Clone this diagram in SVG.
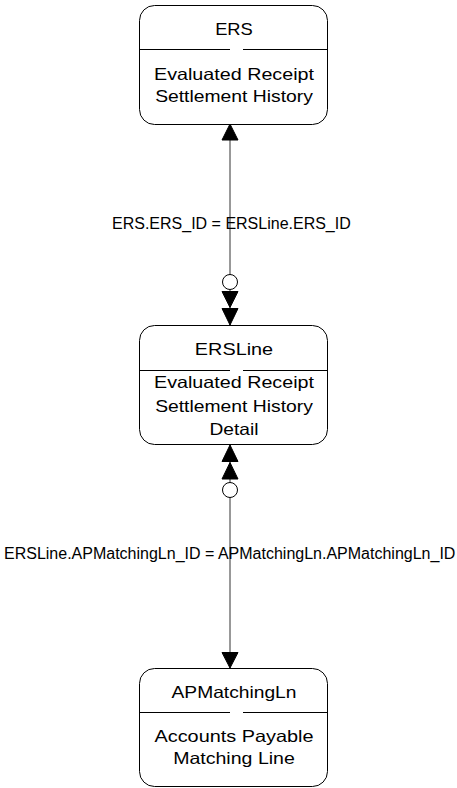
<svg xmlns="http://www.w3.org/2000/svg" width="457" height="788" viewBox="0 0 457 788">
<style>
.box{fill:#fff;stroke:#000;stroke-width:1}
.div{stroke:#000;stroke-width:1;fill:none}
.t{font-family:"Liberation Sans",Arial,sans-serif;font-size:16.5px;fill:#000;text-anchor:middle}
.lbl{font-family:"Liberation Sans",Arial,sans-serif;font-size:16px;fill:#000}
.ln{stroke:#333;stroke-width:1;fill:none}
.ah{fill:#000;stroke:#000;stroke-width:1}
.ci{fill:#fff;stroke:#000;stroke-width:1}
</style>
<rect width="457" height="788" fill="#fff"/>
<g id="connectors">
  <g id="c1">
    <line class="ln" x1="230" y1="124" x2="230" y2="325"/>
    <path class="ah" d="M230,124 L222,140 L238,140 Z"/>
    <circle class="ci" cx="230" cy="282" r="7.5"/>
    <path class="ah" d="M222,291.5 L238,291.5 L230,307.5 Z"/>
    <path class="ah" d="M222,308.5 L238,308.5 L230,325 Z"/>
    <text class="lbl" x="112" y="228.5">ERS.ERS_ID = ERSLine.ERS_ID</text>
  </g>
  <g id="c2">
    <line class="ln" x1="230" y1="444" x2="230" y2="668"/>
    <path class="ah" d="M230,445 L222,461.5 L238,461.5 Z"/>
    <path class="ah" d="M230,462.5 L222,479 L238,479 Z"/>
    <circle class="ci" cx="230" cy="490" r="7.5"/>
    <path class="ah" d="M222,652.5 L238,652.5 L230,668 Z"/>
    <text class="lbl" x="4" y="559">ERSLine.APMatchingLn_ID = APMatchingLn.APMatchingLn_ID</text>
  </g>
</g>
<g id="ERS">
  <rect class="box" x="139.5" y="5.5" width="188" height="119" rx="15" ry="15"/>
  <path class="div" d="M139.5,49.5 H230 M243,49.5 H327.5"/>
  <text class="t" x="234" y="35" textLength="37.7" lengthAdjust="spacingAndGlyphs">ERS</text>
  <text class="t" x="234" y="80" textLength="160" lengthAdjust="spacingAndGlyphs">Evaluated Receipt</text>
  <text class="t" x="234" y="101.7" textLength="157.7" lengthAdjust="spacingAndGlyphs">Settlement History</text>
</g>
<g id="ERSLine">
  <rect class="box" x="139.5" y="325.5" width="188" height="119" rx="15" ry="15"/>
  <path class="div" d="M139.5,370.5 H230 M243,370.5 H327.5"/>
  <text class="t" x="234" y="355" textLength="78.3" lengthAdjust="spacingAndGlyphs">ERSLine</text>
  <text class="t" x="234" y="388.3" textLength="160" lengthAdjust="spacingAndGlyphs">Evaluated Receipt</text>
  <text class="t" x="234" y="411.7" textLength="157.7" lengthAdjust="spacingAndGlyphs">Settlement History</text>
  <text class="t" x="234" y="435" textLength="49" lengthAdjust="spacingAndGlyphs">Detail</text>
</g>
<g id="APMatchingLn">
  <rect class="box" x="139.5" y="668.5" width="188" height="118" rx="15" ry="15"/>
  <path class="div" d="M139.5,712.5 H230 M243,712.5 H327.5"/>
  <text class="t" x="234" y="698.3" textLength="125" lengthAdjust="spacingAndGlyphs">APMatchingLn</text>
  <text class="t" x="234" y="741.7" textLength="159" lengthAdjust="spacingAndGlyphs">Accounts Payable</text>
  <text class="t" x="234" y="764" textLength="121.7" lengthAdjust="spacingAndGlyphs">Matching Line</text>
</g>
</svg>
